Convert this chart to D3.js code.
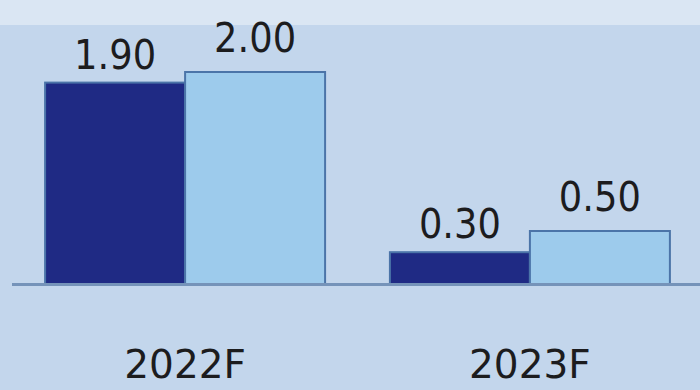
<!DOCTYPE html>
<html>
<head>
<meta charset="utf-8">
<script src="https://cdn.jsdelivr.net/npm/d3@7"></script>
<style>
  html, body { margin: 0; padding: 0; background: #c3d6ec; }
  svg { display: block; }
  text { font-family: "DejaVu Sans", Verdana, sans-serif; fill: #1c1c1e; }
</style>
</head>
<body>
<svg id="chart" width="700" height="390"></svg>
<script>
// Forecast periods and the two series shown for each
const categories = ["2022F", "2023F"];
const seriesA = [1.90, 0.30];
const seriesB = [2.00, 0.50];
const seriesColors = ["#1f2a84", "#9dcbec"];
// distance between a bar's top and its value label, per series
const labelGap = [14, 20];

const W = 700, H = 390;
const svg = d3.select("#chart");

// page background and pale strip along the top
svg.append("rect").attr("width", W).attr("height", H).attr("fill", "#c3d6ec");
svg.append("rect").attr("width", W).attr("height", 25).attr("fill", "#dae6f3");

const x0 = d3.scaleBand()
  .domain(categories)
  .range([12, 703])
  .paddingInner(0.188)
  .paddingOuter(0.096);

const x1 = d3.scaleBand()
  .domain([0, 1])
  .range([0, x0.bandwidth()])
  .padding(0);

const y = d3.scaleLinear().domain([0, 2]).range([284, 72]);

const rows = categories.map((c, i) => ({ cat: c, vals: [seriesA[i], seriesB[i]] }));

const groups = svg.append("g").selectAll("g")
  .data(rows).join("g")
  .attr("transform", d => `translate(${x0(d.cat)},0)`);

groups.selectAll("rect")
  .data(d => d.vals.map((v, k) => ({ v, k })))
  .join("rect")
  .attr("x", d => x1(d.k))
  .attr("y", d => y(d.v))
  .attr("width", x1.bandwidth())
  .attr("height", d => y(0) - y(d.v))
  .attr("fill", d => seriesColors[d.k])
  .attr("stroke", "#4b74a8")
  .attr("stroke-width", 2);

// value labels above each bar
groups.selectAll("text.val")
  .data(d => d.vals.map((v, k) => ({ v, k })))
  .join("text")
  .attr("class", "val")
  .attr("transform", d => `translate(${x1(d.k) + x1.bandwidth() / 2},${y(d.v) - labelGap[d.k]}) scale(0.97,1.08)`)
  .attr("text-anchor", "middle")
  .style("font-size", "38px")
  .text(d => d3.format(".2f")(d.v));

// baseline
svg.append("line")
  .attr("x1", 12).attr("x2", W)
  .attr("y1", y(0) + 0.5).attr("y2", y(0) + 0.5)
  .attr("stroke", "#7593b9")
  .attr("stroke-width", 3);

// category axis (labels only)
const xAxis = d3.axisBottom(x0).tickSize(0).tickPadding(0);
const ax = svg.append("g").attr("transform", "translate(0,350)").call(xAxis);
ax.select(".domain").remove();
ax.selectAll("text")
  .attr("dy", "0.71em")
  .style("font-size", "39px")
  .style("font-family", "'DejaVu Sans', Verdana, sans-serif")
  .attr("fill", "#1c1c1e");
</script>
</body>
</html>
